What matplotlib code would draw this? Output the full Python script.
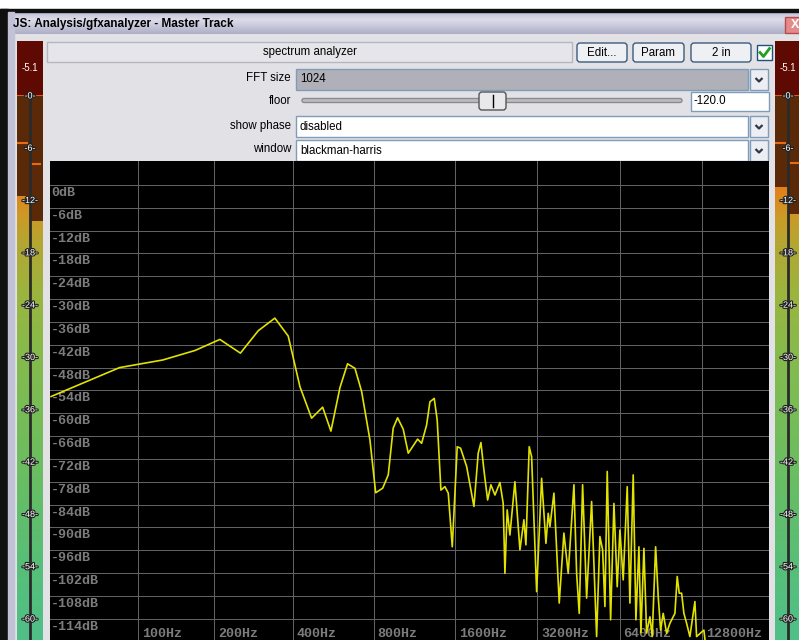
import numpy as np
import matplotlib
matplotlib.use('Agg')
import matplotlib.pyplot as plt
from matplotlib.patches import Rectangle, FancyBboxPatch
from matplotlib.colors import LinearSegmentedColormap
import matplotlib.patheffects as pe

# spectrum trace (Hz, dB)
freq_hz = [42, 84, 126, 169, 211, 253, 296, 342, 384, 425,
           470, 517, 555, 600, 640, 682, 722, 775, 814, 864,
           906, 945, 981, 1029, 1074, 1163, 1203, 1255, 1291, 1339,
           1373, 1417, 1466, 1508, 1560, 1627, 1674, 1762, 1874, 1943,
           1988, 2039, 2104, 2163, 2238, 2334, 2400, 2435, 2482, 2540,
           2649, 2764, 2858, 2907, 2989, 3050, 3182, 3319, 3442, 3509,
           3560, 3682, 3850, 4005, 4153, 4358, 4458, 4557, 4689, 4850,
           5058, 5276, 5424, 5549, 5658, 5769, 5936, 6104, 6275, 6420,
           6600, 6827, 6983, 7180, 7345, 7533, 7661, 7857, 8037, 8264,
           8425, 8670, 8862, 9042, 9242, 9510, 9778, 10198, 10397, 10573,
           10789, 10999, 11252, 11568, 12066, 12239, 13014, 13400, 16000, 22500]
level_db = [-55.6, -48.0, -46.0, -43.5, -40.6, -44.2, -38.3, -35.0, -39.7, -53.0,
            -61.3, -58.4, -64.7, -53.2, -47.0, -48.2, -54.3, -67.0, -80.9, -79.7,
            -76.2, -63.9, -61.2, -64.2, -70.5, -66.8, -67.9, -63.1, -57.0, -56.1,
            -61.8, -80.2, -79.3, -81.0, -95.1, -68.8, -69.2, -74.0, -84.5, -70.5,
            -67.7, -74.9, -82.8, -78.8, -81.5, -78.2, -83.7, -102.1, -85.4, -92.0,
            -78.0, -95.9, -88.0, -94.6, -68.8, -71.4, -106.9, -77.1, -94.2, -86.3,
            -89.8, -81.0, -109.9, -91.5, -102.1, -78.8, -102.1, -112.6, -78.8, -108.6,
            -83.2, -118.7, -92.4, -95.9, -110.8, -75.3, -114.3, -83.7, -105.6, -90.7,
            -103.8, -79.3, -109.9, -76.2, -114.3, -95.1, -117.7, -95.5, -117.8, -113.5,
            -118.7, -95.1, -108.2, -117.0, -112.6, -117.8, -115.2, -112.6, -102.9, -107.3,
            -107.3, -112.6, -115.2, -118.7, -109.5, -118.7, -117.0, -125, -130, -130]

db_grid = [0, -6, -12, -18, -24, -30, -36, -42, -48, -54,
           -60, -66, -72, -78, -84, -90, -96, -102, -108, -114]
hz_grid = [100, 200, 400, 800, 1600, 3200, 6400, 12800]
hz_labels = ['100Hz', '200Hz', '400Hz', '800Hz', '1600Hz', '3200Hz', '6400Hz', '12800Hz']

# level meters: channel levels, peak holds, scale marks
meter_ticks = [0, 6, 12, 18, 24, 30, 36, 42, 48, 54, 60]
left_levels = [-11.5, -14.4]
left_peaks = [-5.4, -7.8]
right_levels = [-10.4, -13.5]
right_peaks = [-5.4, -7.7]
peak_text = '-5.1'

W, H = 799, 640
BG = '#e2e1e6'
BORDER = '#7f9db9'
UI_FONT = ['Liberation Sans', 'DejaVu Sans']

fig = plt.figure(figsize=(W / 100, H / 100), dpi=100)
fig.patch.set_facecolor(BG)

# window chrome, drawn in pixel coordinates
ui = fig.add_axes([0, 0, 1, 1])
ui.set_xlim(0, W)
ui.set_ylim(H, 0)
ui.axis('off')


def rect(x0, y0, x1, y1, fc, ec=None, lw=1.0):
    ui.add_patch(Rectangle((x0, y0), x1 - x0, y1 - y0, facecolor=fc,
                           edgecolor=ec if ec else fc, lw=lw))


def rbox(x0, y0, x1, y1, fc, ec, r=3, lw=1.0):
    ui.add_patch(FancyBboxPatch((x0, y0), x1 - x0, y1 - y0,
                                boxstyle=f'round,pad=0,rounding_size={r}',
                                facecolor=fc, edgecolor=ec, lw=lw))


def label(x, y, s, ha='left', size=8.3, color='black', weight='normal'):
    ui.text(x, y, s, ha=ha, va='center', fontsize=size, color=color,
            family=UI_FONT, fontweight=weight)


def dropdown(x0, y0, x1, y1):
    rect(x0, y0, x1, y1, '#eceef4', BORDER)
    cx, cy = (x0 + x1) / 2, (y0 + y1) / 2
    ui.plot([cx - 3.5, cx, cx + 3.5], [cy - 1.5, cy + 2, cy - 1.5],
            color='#303848', lw=1.6, solid_capstyle='butt')


rect(0, 0, W, 9, 'white')
rect(0, 9, W, 12, '#101010')
rect(0, 9, 8, H, '#101010')
rect(8, 12, 14, H, '#c2c2d6')

grad = np.linspace(0, 1, 40)[:, None]
title_cmap = LinearSegmentedColormap.from_list(
    'title', ['#c2c2d8', '#dcdcea', '#c6c6da', '#aeaec6'])
ui.imshow(grad, cmap=title_cmap, aspect='auto', origin='upper',
          extent=(8, W, 34, 12), zorder=0.5)
label(13, 24, 'JS: Analysis/gfxanalyzer - Master Track', size=8.5, weight='bold')

# close button
rect(785, 17, 801, 33, '#e38a8a', '#b84a4a')
ui.text(795, 25, 'X', ha='center', va='center', fontsize=9, color='white',
        fontweight='bold', family=UI_FONT)

# header row
rect(47, 42, 572, 62, '#e6e6ea', '#b6b6be')
label(310, 52, 'spectrum analyzer', ha='center')
for x0, x1, s in [(577, 627, 'Edit...'), (633, 684, 'Param'), (691, 751, '2 in')]:
    rbox(x0, 43, x1, 62, '#eef0f4', '#3c5a7c', r=3)
    label((x0 + x1) / 2, 52.5, s, ha='center')
rect(757, 45, 772, 60, 'white', '#1c5180')
ui.plot([760, 763.5, 769.5], [52.5, 56.5, 48.5], color='#21a121', lw=2)

# parameter rows
label(291, 78, 'FFT size', ha='right')
rect(296, 69, 748, 90, '#b0b0b8', BORDER)
label(300, 79.5, '1024')
dropdown(750, 69, 768, 90)

label(291, 101, 'floor', ha='right')
rbox(302, 98.5, 682, 102.5, '#bdbdc0', '#8c8c90', r=2)
rbox(479, 92, 506, 110, '#e9e9eb', '#555558', r=3)
ui.plot([492.5, 492.5], [95, 107], color='black', lw=1)
rect(691, 92, 769, 111, 'white', BORDER)
label(693, 101.5, '-120.0')

label(291, 126, 'show phase', ha='right')
rect(296, 116, 748, 137, 'white', BORDER)
label(300, 127, 'disabled')
dropdown(750, 116, 768, 137)

label(291, 149, 'window', ha='right')
rect(296, 140, 748, 161, 'white', BORDER)
label(300, 151, 'blackman-harris')
dropdown(750, 140, 768, 161)

# spectrum display
ax = fig.add_axes([50 / W, 0, 719 / W, 479 / H], facecolor='black')
ax.set_xscale('function', functions=(lambda f: np.log(np.maximum(f + 12.0, 1e-6)),
                                     lambda u: np.exp(u) - 12.0))
ax.set_xlim(41.5, 22500)
ax.set_ylim(-119.6, 6.3)
for s in ax.spines.values():
    s.set_visible(False)
ax.set_xticks([])
ax.set_xticks([], minor=True)
ax.set_yticks([])

grid_c = '#626262'
lab_c = '#7c7c7c'
for v in db_grid:
    ax.axhline(v, color=grid_c, lw=0.72, zorder=1)
    ax.annotate(f'{v}dB', xy=(0, v), xycoords=('axes fraction', 'data'),
                xytext=(1, -2), textcoords='offset pixels', va='top', ha='left',
                color=lab_c, fontsize=9.6, family='Liberation Mono',
                fontweight='bold', zorder=2)
for f, s in zip(hz_grid, hz_labels):
    ax.axvline(f, color=grid_c, lw=0.72, zorder=1)
    ax.annotate(s, xy=(f, 0), xycoords=('data', 'axes fraction'),
                xytext=(4, 0), textcoords='offset pixels', va='bottom', ha='left',
                color=lab_c, fontsize=9.6, family='Liberation Mono',
                fontweight='bold', zorder=2)

ax.plot(freq_hz, level_db, color='#e2e200', lw=1.2, zorder=5)

# level meters
meter_cmap = LinearSegmentedColormap.from_list('meter', [
    (0.0, '#e05a12'), (0.17, '#e2801a'), (0.22, '#cc9a26'), (0.27, '#b4a632'),
    (0.36, '#9cb43e'), (0.46, '#88ba4a'), (0.56, '#7abc54'), (0.66, '#6ebd5e'),
    (0.76, '#62bd6a'), (0.88, '#56bf7a'), (1.0, '#50c088')])


def meter(x_px, levels, peaks, width=26):
    m = fig.add_axes([x_px / W, 0, width / W, 599 / H])
    m.set_xlim(0, 2)
    m.set_ylim(-62.4, 6.3)
    m.axis('off')
    m.axhspan(0, 6.3, color='#5e0a02', lw=0)
    m.imshow(np.linspace(0, 1, 200)[:, None], cmap=meter_cmap, aspect='auto',
             origin='upper', extent=(0, 2, -62.4, 0), zorder=1)
    m.bar([0.5, 1.5], [-v for v in levels], bottom=levels, width=1.0,
          color='#5a2a08', lw=0, zorder=2)
    for i, p in enumerate(peaks):
        m.hlines(p, i + 0.02, i + 0.85, color='#e86a12', lw=1.5, zorder=3)
    m.vlines(1, -62.4, 0, color='#2a2a2a', lw=2, zorder=3)
    m.text(1, 3.2, peak_text, ha='center', va='center', color='white',
           fontsize=7, family=UI_FONT, zorder=4)
    for t in meter_ticks:
        m.text(1, -t, f'-{t}-', ha='center', va='center', color='white',
               fontsize=6.5, family=UI_FONT, zorder=4,
               path_effects=[pe.withStroke(linewidth=1.6, foreground='#202020')])
    return m


meter(17, left_levels, left_peaks)
meter(775, right_levels, right_peaks)

fig.savefig('out.png', dpi=100, facecolor=fig.get_facecolor())
